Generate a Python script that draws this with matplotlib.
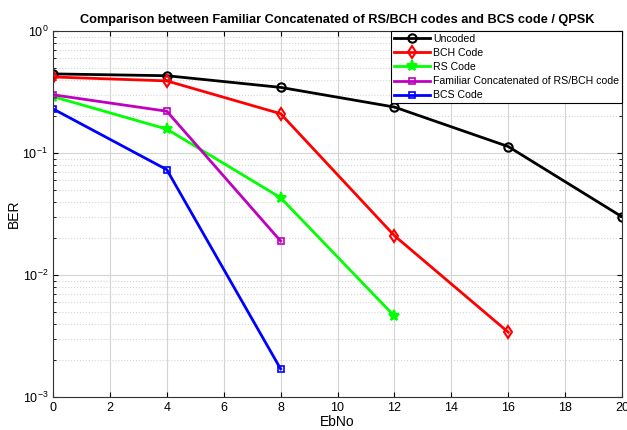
import numpy as np
import matplotlib
matplotlib.use("Agg")
import matplotlib.pyplot as plt

plt.rcParams['font.family'] = ['Liberation Sans', 'DejaVu Sans']

ebno = [0, 4, 8, 12, 16, 20]
ber_uncoded = [0.445, 0.43, 0.345, 0.238, 0.113, 0.030]
ber_bch = [0.42, 0.39, 0.21, 0.021, 0.0034]
ber_rs = [0.29, 0.157, 0.043, 0.0046]
ber_concat = [0.30, 0.22, 0.019]
ber_bcs = [0.23, 0.073, 0.0017]

labels = ['Uncoded', 'BCH Code', 'RS Code',
          'Familiar Concatenated of RS/BCH code', 'BCS Code']

fig = plt.figure(figsize=(6.27, 4.30), dpi=100)
ax = fig.add_axes([53/627, 1 - 397/430, (622 - 53)/627, (397 - 31)/430])

ax.semilogy(ebno, ber_uncoded, '-o', color='k', lw=2, ms=6, mfc='none', mew=1.5, label=labels[0])
ax.semilogy(ebno[:5], ber_bch, '-d', color='r', lw=2, ms=6, mfc='none', mew=1.5, label=labels[1])
ax.semilogy(ebno[:4], ber_rs, '-*', color='#00ff00', lw=2, ms=8, mew=1.5, label=labels[2])
ax.semilogy(ebno[:3], ber_concat, '-s', color='#c000c0', lw=2, ms=5, mfc='none', mew=1.2, label=labels[3])
ax.semilogy(ebno[:3], ber_bcs, '-s', color='#0000ff', lw=2, ms=5, mfc='none', mew=1.2, label=labels[4])

ax.set_xlim(0, 20)
ax.set_ylim(1e-3, 1)
ax.set_xticks(range(0, 21, 2))
ax.grid(True, which='major', color='#d4d4d4', lw=0.8)
ax.grid(True, which='minor', color='#d4d4d4', lw=0.8, ls=':')
ax.tick_params(which='both', direction='in', top=True, right=True, labelsize=9)
for s in ax.spines.values():
    s.set_color('#333333')

ax.set_xlabel('EbNo', fontsize=10, labelpad=1)
ax.set_ylabel('BER', fontsize=10, labelpad=1)
ax.set_title('Comparison between Familiar Concatenated of RS/BCH codes and BCS code / QPSK',
             fontsize=9.2, fontweight='bold')

leg = ax.legend(loc='upper right', fontsize=7.6, fancybox=False, framealpha=1,
                edgecolor='k', borderaxespad=0, handlelength=3.4, labelspacing=0.38,
                borderpad=0.3, handletextpad=0.3)
leg.get_frame().set_linewidth(0.8)

fig.savefig('out.png', dpi=100)
